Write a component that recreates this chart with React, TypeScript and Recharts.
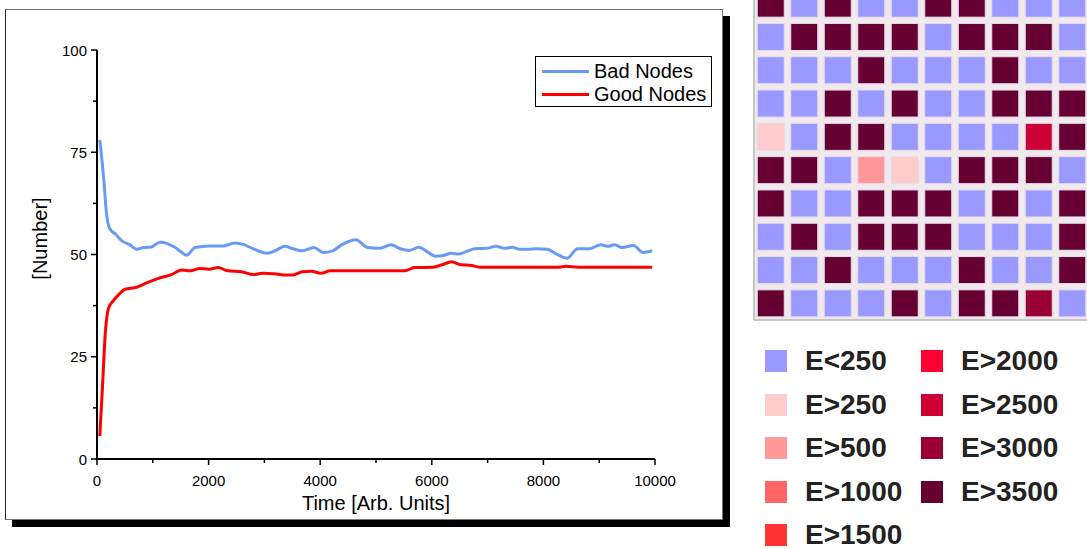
import { CartesianGrid, Legend, LineChart, Line, Scatter, ScatterChart, XAxis, YAxis } from 'recharts';

// time series
const badTime = [50, 125, 170, 230, 330, 460, 585, 710, 836, 961, 1130, 1380, 1505, 1605, 1756, 2007, 2258, 2467, 2634, 2800, 3052, 3219, 3361, 3512, 3679, 3888, 4055, 4222, 4390, 4640, 4849, 5059, 5268, 5435, 5602, 5769, 5895, 6062, 6187, 6355, 6480, 6647, 6773, 6982, 7149, 7316, 7441, 7567, 7734, 7860, 8069, 8236, 8428, 8612, 8821, 9030, 9156, 9281, 9406, 9615, 9783, 9950];
const badValue = [78, 67.8, 60, 56.3, 55, 53.2, 52.4, 51.3, 51.7, 51.8, 53, 51.9, 50.7, 49.8, 51.7, 52.1, 52.1, 52.8, 52.4, 51.4, 50.3, 51.1, 52, 51.4, 50.9, 51.7, 50.5, 50.9, 52.4, 53.6, 51.7, 51.5, 52.4, 51.4, 51, 51.8, 50.9, 49.6, 49.7, 50.3, 50.1, 50.9, 51.4, 51.5, 52, 51.5, 51.8, 51.3, 51.3, 51.4, 51.3, 50.1, 49.1, 51.4, 51.4, 52.4, 52, 52.4, 51.7, 52.2, 50.5, 50.9];

const goodTime = [50, 100, 150, 209, 293, 376, 502, 710, 878, 1087, 1338, 1522, 1672, 1839, 2007, 2174, 2341, 2592, 2800, 2968, 3177, 3344, 3512, 3679, 3846, 4013, 4181, 4515, 4933, 5518, 5686, 6020, 6187, 6355, 6522, 6689, 6856, 7441, 8278, 8403, 8612, 9950];
const goodValue = [5.6, 18.2, 31, 37, 38.7, 40, 41.5, 42, 43, 44.1, 45.1, 46.2, 46, 46.6, 46.4, 46.8, 46, 45.8, 45.1, 45.4, 45.3, 45, 45, 45.8, 45.9, 45.4, 46, 46, 46, 46, 46.8, 46.9, 47.5, 48.2, 47.5, 47.4, 46.9, 46.9, 46.9, 47.1, 46.9, 46.9];

const xTicks = [0, 1000, 2000, 3000, 4000, 5000, 6000, 7000, 8000, 9000, 10000];
const yTicks = [0, 12.5, 25, 37.5, 50, 62.5, 75, 87.5, 100];

// energy classes and the lattice (index into the classes), row 0 on top
const energyLabels = ['E<250', 'E>250', 'E>500', 'E>1000', 'E>1500', 'E>2000', 'E>2500', 'E>3000', 'E>3500'];
const energyColors = ['#9999ff', '#ffcccc', '#ff9999', '#ff6666', '#ff3333', '#ff0033', '#cc0033', '#990033', '#660033'];
const lattice = [
  [8, 0, 8, 0, 0, 8, 8, 0, 0, 0],
  [0, 8, 8, 8, 8, 0, 8, 8, 8, 0],
  [0, 0, 0, 8, 0, 0, 0, 8, 0, 0],
  [0, 0, 8, 0, 8, 0, 0, 8, 8, 8],
  [1, 0, 8, 8, 0, 0, 0, 0, 6, 8],
  [8, 8, 0, 2, 1, 0, 8, 8, 8, 0],
  [8, 0, 0, 8, 8, 8, 0, 8, 0, 8],
  [0, 8, 0, 8, 8, 8, 0, 0, 0, 8],
  [0, 0, 8, 0, 0, 0, 8, 0, 0, 8],
  [8, 0, 0, 0, 8, 0, 8, 8, 7, 0],
];
const gridTicks = [-0.5, 0.5, 1.5, 2.5, 3.5, 4.5, 5.5, 6.5, 7.5, 8.5, 9.5];

const FONT = '"Liberation Sans", Arial, sans-serif';

const badData = badTime.map((t, i) => ({ t, v: badValue[i] }));
const goodData = goodTime.map((t, i) => ({ t, v: goodValue[i] }));
const cells = lattice.flatMap((row, r) => row.map((level, c) => ({ col: c, row: r, level })));

const YTick = (props: any) => {
  const { x, y, payload } = props;
  const major = payload.value % 25 === 0;
  return (
    <g>
      <line x1={x - (major ? 6 : 4)} x2={x} y1={y} y2={y} stroke="#000" strokeWidth={1.5} />
      {major && (
        <text x={x - 10} y={y} textAnchor="end" dominantBaseline="central" fontSize={15} fontFamily={FONT} fill="#000">
          {payload.value}
        </text>
      )}
    </g>
  );
};

const XTick = (props: any) => {
  const { x, y, payload } = props;
  const major = payload.value % 2000 === 0;
  return (
    <g>
      <line x1={x} x2={x} y1={y} y2={y + (major ? 6 : 4)} stroke="#000" strokeWidth={1.5} />
      {major && (
        <text x={x} y={y + 21} textAnchor="middle" dominantBaseline="central" fontSize={15} fontFamily={FONT} fill="#000">
          {payload.value}
        </text>
      )}
    </g>
  );
};

const renderLegend = () => (
  <div style={{ border: '1px solid #000', background: '#fff', width: 177, height: 51, boxSizing: 'border-box', fontFamily: FONT, fontSize: 20, paddingTop: 3 }}>
    {[
      { name: 'Bad Nodes', color: '#6a9bf4' },
      { name: 'Good Nodes', color: '#ff0000' },
    ].map((item) => (
      <div key={item.name} style={{ display: 'flex', alignItems: 'center', height: 23 }}>
        <span style={{ display: 'inline-block', width: 47, height: 3, background: item.color, marginLeft: 6, marginRight: 5 }} />
        <span>{item.name}</span>
      </div>
    ))}
  </div>
);

export default function App() {
  return (
    <div style={{ position: 'absolute', left: 0, top: 0, width: 1087, height: 549, overflow: 'hidden', background: '#fff' }}>
      <div
        style={{
          position: 'absolute',
          left: 5,
          top: 9,
          width: 718,
          height: 511,
          boxSizing: 'border-box',
          border: '1px solid #777',
          borderLeftColor: '#222',
          boxShadow: '7px 7px 0 0 #000',
          background: '#fff',
        }}
      />
      <div style={{ position: 'absolute', left: 0, top: 0 }}>
        <LineChart width={730} height={549} margin={{ top: 50, right: 75, bottom: 40, left: 47 }}>
          <XAxis
            dataKey="t"
            type="number"
            domain={[0, 10000]}
            ticks={xTicks}
            interval={0}
            height={50}
            tickSize={0}
            tickMargin={0}
            tickLine={false}
            tick={<XTick />}
            axisLine={{ stroke: '#000', strokeWidth: 2 }}
            allowDuplicatedCategory={false}
            label={{
              value: 'Time [Arb. Units]',
              content: (p: any) => {
                const vb = p.viewBox;
                return (
                  <text x={vb.x + vb.width / 2} y={vb.y + 44} textAnchor="middle" dominantBaseline="central" fontSize={20} fontFamily={FONT} fill="#000">
                    Time [Arb. Units]
                  </text>
                );
              },
            }}
          />
          <YAxis
            type="number"
            domain={[0, 100]}
            ticks={yTicks}
            interval={0}
            width={50}
            tickSize={0}
            tickMargin={0}
            tickLine={false}
            tick={<YTick />}
            axisLine={{ stroke: '#000', strokeWidth: 2 }}
            label={{
              value: '[Number]',
              content: (p: any) => {
                const vb = p.viewBox;
                const cx = vb.x - 7;
                const cy = vb.y + vb.height / 2 - 16;
                return (
                  <text x={cx} y={cy} transform={`rotate(-90 ${cx} ${cy})`} textAnchor="middle" dominantBaseline="central" fontSize={20} fontFamily={FONT} fill="#000">
                    [Number]
                  </text>
                );
              },
            }}
          />
          <Legend
            content={renderLegend}
            layout="horizontal"
            verticalAlign="middle"
            wrapperStyle={{ position: 'absolute', left: 535, top: 56, width: 177 }}
          />
          <Line data={badData} dataKey="v" name="Bad Nodes" type="monotone" stroke="#6a9bf4" strokeWidth={3} dot={false} isAnimationActive={false} />
          <Line data={goodData} dataKey="v" name="Good Nodes" type="monotone" stroke="#ff0000" strokeWidth={3} dot={false} isAnimationActive={false} />
        </LineChart>
      </div>

      <div style={{ position: 'absolute', left: 752, top: -13 }}>
        <ScatterChart width={340} height={336} margin={{ top: 0, right: 3, bottom: 3, left: 2 }}>
          <CartesianGrid stroke="#c4c8c0" strokeWidth={2} fill="#f1e9ec" />
          <XAxis
            dataKey="col"
            type="number"
            domain={[-0.5, 9.5]}
            ticks={gridTicks}
            height={0}
            tick={false}
            tickLine={false}
            axisLine={{ stroke: '#000', strokeWidth: 2 }}
          />
          <YAxis
            dataKey="row"
            type="number"
            domain={[-0.5, 9.5]}
            ticks={gridTicks}
            reversed
            width={0}
            tick={false}
            tickLine={false}
            axisLine={{ stroke: '#000', strokeWidth: 2 }}
          />
          <Scatter
            data={cells}
            isAnimationActive={false}
            shape={(p: any) => (
              <rect
                x={p.cx - 13.5}
                y={p.cy - 13.5}
                width={27}
                height={27}
                fill={energyColors[p.payload.level]}
                stroke="#e4dcef"
                strokeWidth={1}
              />
            )}
          />
        </ScatterChart>
      </div>

      {energyLabels.map((label, i) => {
        const colIdx = i < 5 ? 0 : 1;
        const rowIdx = i < 5 ? i : i - 5;
        return (
          <div
            key={label}
            style={{
              position: 'absolute',
              left: colIdx === 0 ? 765 : 921,
              top: 361 + rowIdx * 43.5 - 17,
              height: 34,
              display: 'flex',
              alignItems: 'center',
              fontFamily: FONT,
              fontWeight: 'bold',
              fontSize: 28,
              color: '#222',
            }}
          >
            <span style={{ display: 'inline-block', width: 22, height: 22, background: energyColors[i], marginRight: 18 }} />
            <span>{label}</span>
          </div>
        );
      })}
    </div>
  );
}
